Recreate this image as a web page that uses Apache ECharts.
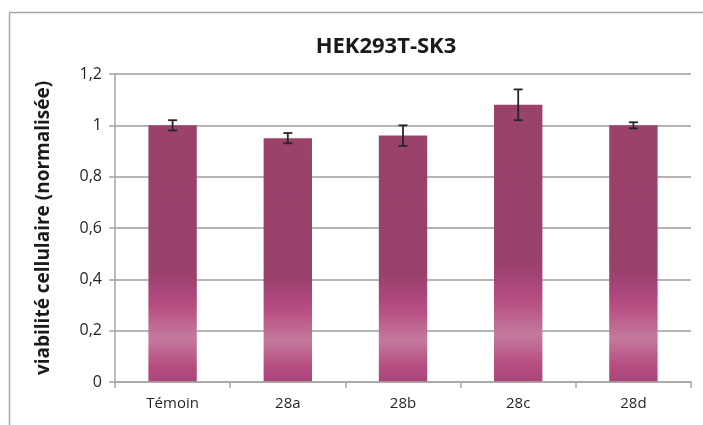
<!DOCTYPE html>
<html>
<head>
<meta charset="utf-8">
<script src="https://cdn.jsdelivr.net/npm/echarts@6/dist/echarts.min.js"></script>
<style>
  html, body { margin: 0; padding: 0; background: #fff; }
  #chart { width: 703px; height: 425px; }
</style>
</head>
<body>
<div id="chart"></div>
<script>
// Cell viability per compound, normalised to the control
const categories = ['Témoin', '28a', '28b', '28c', '28d'];
const viability = [1.0, 0.95, 0.96, 1.08, 1.0];
const errors = [0.02, 0.02, 0.04, 0.06, 0.012];
const yTicks = { min: 0, max: 1.2, interval: 0.2 };

const chart = echarts.init(document.getElementById('chart'));

const barGradient = new echarts.graphic.LinearGradient(0, 0, 0, 1, [
  { offset: 0.0, color: '#9B426A' },
  { offset: 0.56, color: '#98416A' },
  { offset: 0.64, color: '#A8457A' },
  { offset: 0.71, color: '#B84F82' },
  { offset: 0.83, color: '#C47A9D' },
  { offset: 0.94, color: '#B64C80' },
  { offset: 1.0, color: '#A9467A' }
]);

const errorData = categories.map((c, i) => [i, viability[i] - errors[i], viability[i] + errors[i]]);

const font = '"Open Sans", "Liberation Sans", sans-serif';

chart.setOption({
  animation: false,
  backgroundColor: '#fff',
  title: {
    text: 'HEK293T-SK3',
    left: 381,
    textAlign: 'center',
    top: 31,
    textStyle: { fontFamily: font, fontWeight: 'bold', fontSize: 22, color: '#1a1a1a' }
  },
  grid: { left: 115, right: 12, top: 74, bottom: 43 },
  xAxis: {
    type: 'category',
    data: categories,
    z: 3,
    axisLine: { lineStyle: { color: '#A6A6A6', width: 1.5 } },
    axisTick: { show: true, length: 6, lineStyle: { color: '#A6A6A6', width: 1.5 } },
    axisLabel: { margin: 14, fontFamily: font, fontSize: 15, color: '#262626' }
  },
  yAxis: {
    type: 'value',
    min: yTicks.min,
    max: yTicks.max,
    interval: yTicks.interval,
    name: 'viabilité cellulaire (normalisée)',
    nameLocation: 'middle',
    nameRotate: 90,
    nameGap: 62,
    nameTextStyle: { fontFamily: font, fontWeight: 'bold', fontSize: 19, color: '#1a1a1a' },
    axisLine: { show: true, lineStyle: { color: '#A6A6A6', width: 1.5 } },
    axisTick: { show: true, length: 6, lineStyle: { color: '#A6A6A6', width: 1.5 } },
    splitLine: { lineStyle: { color: '#B5B5B5', width: 2 } },
    axisLabel: {
      margin: 13, fontFamily: font, fontSize: 16, color: '#262626',
      formatter: v => String(Math.round(v * 10) / 10).replace('.', ',')
    }
  },
  series: [
    {
      type: 'bar',
      data: viability,
      barWidth: '42%',
      itemStyle: { color: barGradient }
    },
    {
      type: 'custom',
      z: 4,
      data: errorData,
      renderItem: (params, api) => {
        const x = api.value(0);
        const lo = api.coord([x, api.value(1)]);
        const hi = api.coord([x, api.value(2)]);
        const half = 4.5;
        const style = { stroke: '#262626', lineWidth: 1.8 };
        return {
          type: 'group',
          children: [
            { type: 'line', shape: { x1: hi[0], y1: hi[1], x2: lo[0], y2: lo[1] }, style },
            { type: 'line', shape: { x1: hi[0] - half, y1: hi[1], x2: hi[0] + half, y2: hi[1] }, style },
            { type: 'line', shape: { x1: lo[0] - half, y1: lo[1], x2: lo[0] + half, y2: lo[1] }, style }
          ]
        };
      }
    }
  ],
  graphic: [
    { type: 'line', shape: { x1: 9.5, y1: 12.5, x2: 703, y2: 12.5 }, style: { stroke: '#A6A6A6', lineWidth: 1.5 } },
    { type: 'line', shape: { x1: 9.5, y1: 12.5, x2: 9.5, y2: 425 }, style: { stroke: '#A6A6A6', lineWidth: 1.5 } }
  ]
});
</script>
</body>
</html>
